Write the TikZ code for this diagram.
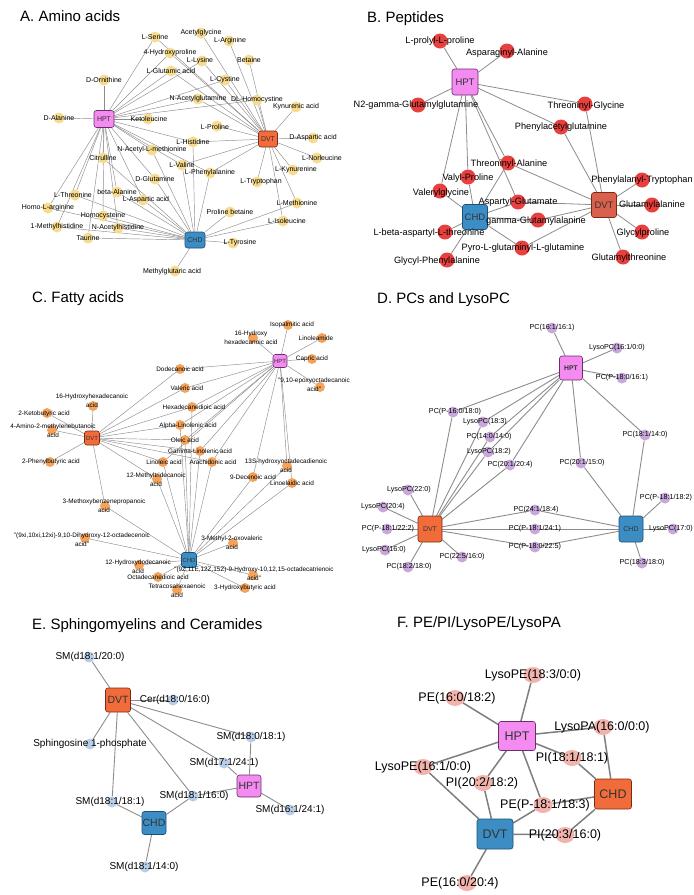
\documentclass[tikz,border=0pt]{standalone}
\usepackage{fontspec}
\setmainfont{Liberation Sans}
\usetikzlibrary{calc,shapes.geometric}
\pgfdeclarelayer{edges}
\pgfdeclarelayer{top}
\pgfsetlayers{edges,main,top}
\definecolor{edgegray}{HTML}{8C8C8C}
\definecolor{colA}{HTML}{F7DB8E}
\definecolor{colB}{HTML}{E8403E}
\definecolor{colC}{HTML}{F3A35C}
\definecolor{colD}{HTML}{C8A8DA}
\definecolor{colE}{HTML}{B8CDE6}
\definecolor{colF}{HTML}{F2B3AC}
\definecolor{hptcol}{HTML}{F38BF0}
\definecolor{hptbd}{HTML}{6B2D6B}
\definecolor{dvtcol}{HTML}{F26B3A}
\definecolor{dvtbcol}{HTML}{D8604C}
\definecolor{dvtbd}{HTML}{7A2A10}
\definecolor{chdcol}{HTML}{3C8DC4}
\definecolor{chdbd}{HTML}{1F4F75}
\newcommand{\Nd}[5][0,0]{\node[#2] (#3) at (#4) {};\begin{pgfonlayer}{top}\node[#2lab] at ($(#4)+(#1)$) {#5};\end{pgfonlayer}}
\newcommand{\Ed}[3]{\begin{pgfonlayer}{edges}\foreach \tgt in {#3} {\draw[#1] (#2) -- (\tgt);}\end{pgfonlayer}}
\begin{document}
\begin{tikzpicture}[x=1pt,y=-1pt,
  ttl/.style={anchor=base west, font=\fontsize{15}{18}\selectfont, inner sep=0pt},
  hub/.style={rounded corners=2.5pt, line width=0.6pt, inner sep=0pt, text=black!80},
  hpt/.style={hub, fill=hptcol, draw=hptbd},
  dvt/.style={hub, fill=dvtcol, draw=dvtbd},
  chd/.style={hub, fill=chdcol, draw=chdbd},
  metA/.style={circle, fill=colA, minimum size=11pt, inner sep=0pt},
  metAlab/.style={font=\fontsize{7}{8}\selectfont, inner sep=0pt, align=center},
  metB/.style={circle, fill=colB, minimum size=15pt, inner sep=0pt},
  metBlab/.style={font=\fontsize{9.2}{11}\selectfont, inner sep=0pt, align=center},
  metC/.style={circle, fill=colC, minimum size=10pt, inner sep=0pt},
  metClab/.style={font=\fontsize{6.4}{9}\selectfont, inner sep=0pt, align=center},
  metD/.style={circle, fill=colD, minimum size=11pt, inner sep=0pt},
  metDlab/.style={font=\fontsize{7.2}{9}\selectfont, inner sep=0pt, align=center},
  metE/.style={circle, fill=colE, minimum size=11pt, inner sep=0pt},
  metElab/.style={font=\fontsize{10}{12}\selectfont, inner sep=0pt, align=center},
  metF/.style={ellipse, fill=colF, minimum width=19pt, minimum height=16pt, inner sep=0pt},
  metFlab/.style={font=\fontsize{12.5}{14}\selectfont, inner sep=0pt, align=center},
  eA/.style={draw=edgegray, line width=0.45pt},
  eB/.style={draw=edgegray, line width=0.8pt},
  eC/.style={draw=edgegray, line width=0.45pt},
  eD/.style={draw=edgegray, line width=0.9pt},
  eE/.style={draw=edgegray, line width=0.9pt},
  eF/.style={draw=edgegray!90!black, line width=1.5pt}]
\path[use as bounding box] (0,0) rectangle (694,895);
% ---------------- titles
\node[ttl] (tA) at (20,21) {A. Amino acids};
\node[ttl] (tB) at (367,22) {B. Peptides};
\node[ttl] (tC) at (32,302) {C. Fatty acids};
\node[ttl] (tD) at (377,303) {D. PCs and LysoPC};
\node[ttl] (tE) at (32,629) {E. Sphingomyelins and Ceramides};
\node[ttl] (tF) at (397,627) {F. PE/PI/LysoPE/LysoPA};
% ---------------- panel A
\node[hpt, minimum width=20pt, minimum height=17pt, font=\fontsize{7}{8}\selectfont] (AH) at (104,119) {HPT};
\node[dvt, minimum width=19pt, minimum height=16pt, font=\fontsize{7}{8}\selectfont] (AD) at (268,139) {DVT};
\node[chd, minimum width=20pt, minimum height=16pt, font=\fontsize{7}{8}\selectfont] (AC) at (195,240) {CHD};
\Nd{metA}{aSer}{155,37}{L-Serine}
\Nd{metA}{aHyp}{170,53}{4-Hydroxyproline}
\Nd{metA}{aGlu}{171,71}{L-Glutamic acid}
\Nd{metA}{aOrn}{104,80}{D-Ornithine}
\Nd{metA}{aNAG}{198,99}{N-Acetylglutamine}
\Nd{metA}{aAla}{59,118}{D-Alanine}
\Nd[1,0]{metA}{aKet}{148,119}{Ketoleucine}
\Nd{metA}{aAcg}{201,33}{Acetylglycine}
\Nd[1,0]{metA}{aArg}{229,41}{L-Arginine}
\Nd[-2,0]{metA}{aLys}{202,61}{L-Lysine}
\Nd{metA}{aBet}{249,60}{Betaine}
\Nd{metA}{aCys}{225,80}{L-Cystine}
\Nd{metA}{aHcy2}{257,100}{DL-Homocystine}
\Nd{metA}{aKyna}{296,107}{Kynurenic acid}
\Nd[-2,1]{metA}{aPro}{217,126}{L-Proline}
\Nd{metA}{aAsp}{313,138}{D-Aspartic acid}
\Nd{metA}{aHis}{193,142}{L-Histidine}
\Nd{metA}{aNAM}{152,150}{N-Acetyl-L-methionine}
\Nd{metA}{aVal}{182,165}{L-Valine}
\Nd{metA}{aPhe}{210,173}{L-Phenylalanine}
\Nd{metA}{aCit}{103,158}{Citrulline}
\Nd{metA}{aGln}{155,179}{D-Glutamine}
\Nd{metA}{abAla}{117,192}{beta-Alanine}
\Nd[3,0]{metA}{aLAsp}{143,200}{L-Aspartic acid}
\Nd{metA}{aPrb}{230,212}{Proline betaine}
\Nd{metA}{aHcy}{103,216}{Homocysteine}
\Nd[-2,0]{metA}{aThr}{75,195}{L-Threonine}
\Nd{metA}{aHar}{48,208}{Homo-L-arginine}
\Nd{metA}{aMeH}{57,227}{1-Methylhistidine}
\Nd{metA}{aNAH}{118,228}{N-Acetylhistidine}
\Nd{metA}{aTau}{88,238}{Taurine}
\Nd[7,0]{metA}{aTyr}{233,243}{L-Tyrosine}
\Nd[5,0]{metA}{aNle}{317,158}{L-Norleucine}
\Nd[3,0]{metA}{aKyn}{293,170}{L-Kynurenine}
\Nd[4,0]{metA}{aTrp}{257,182}{L-Tryptophan}
\Nd{metA}{aMet}{297,203}{L-Methionine}
\Nd[4,0]{metA}{aIle}{283,221}{L-Isoleucine}
\Nd[-3,1]{metA}{aMgl}{175,271}{Methylglutaric acid}
\Ed{eA}{AH}{aAla,aOrn,aKet,aSer,aHyp,aGlu,aLys,aCys,aNAG,aHcy2,aHis,aNAM,aVal,aPhe,aCit,aGln,abAla,aLAsp,aThr,aHar,aMeH,aHcy,aNAH,aTau}
\Ed{eA}{AD}{aAcg,aArg,aLys,aBet,aCys,aHyp,aGlu,aNAG,aHcy2,aKyna,aPro,aAsp,aNle,aKyn,aTrp,aMet,aIle,aHis,aVal,aPhe,aSer}
\Ed{eA}{AC}{aTyr,aMgl,aPrb,aIle,aMet,aHis,aPhe,aVal,aGln,aLAsp,aNAM,abAla,aHcy,aTau,aNAH,aMeH,aThr,aCit,aHar}
% ---------------- panel B
\node[hpt, minimum width=26pt, minimum height=26pt, font=\fontsize{9.5}{10}\selectfont] (BH) at (465,82) {HPT};
\node[hub, fill=dvtbcol, draw=dvtbd, minimum width=25pt, minimum height=25pt, font=\fontsize{9.5}{10}\selectfont] (BD) at (604,205) {DVT};
\node[chd, minimum width=25pt, minimum height=25pt, font=\fontsize{9.5}{10}\selectfont] (BC) at (475,217) {CHD};
\Nd{metB}{b1}{440,41}{L-prolyl-L-proline}
\Nd[0,2]{metB}{b2}{507,51}{Asparaginyl-Alanine}
\Nd[-2,0]{metB}{b3}{418,105}{N2-gamma-Glutamylglutamine}
\Nd[1,2]{metB}{b4}{585,104}{Threoninyl-Glycine}
\Nd{metB}{b5}{561,127}{Phenylacetylglutamine}
\Nd[1,1]{metB}{b6}{508,163}{Threoninyl-Alanine}
\Nd[0,1]{metB}{b7}{468,177}{Valyl-Proline}
\Nd[1,2]{metB}{b8}{440,191}{Valerylglycine}
\Nd{metB}{b9}{518,202}{Aspartyl-Glutamate}
\Nd[-2,1]{metB}{b10}{538,220}{gamma-Glutamylalanine}
\Nd[-16,1]{metB}{b12}{445,232}{L-beta-aspartyl-L-threonine}
\Nd[1,0]{metB}{b11}{522,248}{Pyro-L-glutaminyl-L-glutamine}
\Nd[-10,1]{metB}{b13}{447,260}{Glycyl-Phenylalanine}
\Nd{metB}{b14}{642,180}{Phenylalanyl-Tryptophan}
\Nd{metB}{b15}{652,205}{Glutamylalanine}
\Nd[1,1]{metB}{b16}{642,232}{Glycylproline}
\Nd[6,1]{metB}{b17}{623,257}{Glutamylthreonine}
\Ed{eB}{BH}{b1,b2,b3,b4,b5,b6,b7,b8,b9}
\Ed{eB}{BD}{b4,b5,b6,b9,b10,b11,b14,b15,b16,b17}
\Ed{eB}{BC}{b6,b7,b8,b9,b10,b11,b12,b13}
% ---------------- panel C
\node[hpt, minimum width=14pt, minimum height=13pt, font=\fontsize{6}{7}\selectfont] (CH) at (280,361) {HPT};
\node[dvt, minimum width=15pt, minimum height=14pt, font=\fontsize{6}{7}\selectfont] (CD) at (92,438) {DVT};
\node[chd, minimum width=15pt, minimum height=15pt, font=\fontsize{6}{7}\selectfont] (CC) at (189,560) {CHD};
\Nd[4,0]{metC}{cIso}{288,325}{Isopalmitic acid}
\Nd[-2,0]{metC}{c16H}{253,338}{16-Hydroxy\\hexadecanoic acid}
\Nd[-6,0]{metC}{cLam}{322,338}{Linoleamide}
\Nd{metC}{cCap}{312,359}{Capric acid}
\Nd[-6,-2]{metC}{cEpo}{320,387}{"9,10-epoxyoctadecanoic\\acid"}
\Nd{metC}{cDod}{180,369}{Dodecanoic acid}
\Nd[2,0]{metC}{cVal}{185,388}{Valeric acid}
\Nd[2,0]{metC}{cHex}{192,407}{Hexadecanedioic acid}
\Nd[8,1]{metC}{cALA}{180,425}{Alpha-Linolenic acid}
\Nd[-1,-5]{metC}{c16HH}{93,406}{16-Hydroxyhexadecanoic\\acid}
\Nd[-3,1]{metC}{cKet}{47,413}{2-Ketobutyric acid}
\Nd[1,1]{metC}{cAmi}{52,430}{4-Amino-2-methylenebutanoic\\acid}
\Nd[1,0]{metC}{cPhb}{50,462}{2-Phenylbutyric acid}
\Nd{metC}{cOle}{185,440}{Oleic acid}
\Nd{metC}{cGLA}{200,451}{Gamma-Linolenic acid}
\Nd[1,0]{metC}{cLin}{163,462}{Linoleic acid}
\Nd[1,0]{metC}{cAra}{212,462}{Arachidonic acid}
\Nd[-1,1]{metC}{cMtd}{157,479}{12-Methyltridecanoic\\acid}
\Nd[-1,0]{metC}{c13S}{287,466}{13S-hydroxyoctadecadienoic\\acid}
\Nd{metC}{cDec}{253,477}{9-Decenoic acid}
\Nd{metC}{cLel}{292,483}{Linoelaidic acid}
\Nd[-1,0]{metC}{cMeo}{105,506}{3-Methoxybenzenepropanoic\\acid}
\Nd[-3,2]{metC}{cDih}{85,538}{"(9xi,10xi,12xi)-9,10-Dihydroxy-12-octadecenoic\\acid"}
\Nd[-1,0]{metC}{cMov}{233,543}{3-Methyl-2-oxovaleric\\acid}
\Nd[-1,2]{metC}{cHdd}{139,565}{12-Hydroxydodecanoic\\acid}
\Nd[1,-1]{metC}{cHot}{253,575}{"(9Z,11E,12Z,15Z)-9-Hydroxy-10,12,15-octadecatrienoic\\acid"}
\Nd{metC}{cOdd}{158,577}{Octadecanedioic acid}
\Nd[0,1]{metC}{cTch}{177,590}{Tetracosahexaenoic\\acid}
\Nd{metC}{cHbu}{245,588}{3-Hydroxybutyric acid}
\Ed{eC}{CH}{cIso,c16H,cLam,cCap,cEpo,cDod,cVal,cHex,cALA,cOle,cGLA,cLin,cAra,c13S,cLel,cDec}
\Ed{eC}{CD}{c16HH,cKet,cAmi,cPhb,cMeo,cDod,cVal,cHex,cALA,cOle,cGLA,cLin,cAra,cMtd}
\Ed{eC}{CC}{cMeo,cDih,cHdd,cOdd,cTch,cHbu,cHot,cMov,cDec,cLel,c13S,cMtd,cLin,cOle,cGLA,cAra,cALA,cHex}
% ---------------- panel D
\node[hpt, minimum width=23pt, minimum height=24pt, font=\bfseries\fontsize{6.8}{8}\selectfont] (DH) at (571,368) {HPT};
\node[dvt, minimum width=24pt, minimum height=26pt, font=\fontsize{7}{8}\selectfont] (DD) at (430,529) {DVT};
\node[chd, minimum width=24pt, minimum height=26pt, font=\fontsize{7}{8}\selectfont] (DC) at (631,529) {CHD};
\Nd{metD}{d1}{552,328}{PC(16:1/16:1)}
\Nd{metD}{d2}{617,348}{LysoPC(16:1/0:0)}
\Nd{metD}{d3}{622,378}{PC(P-18:0/16:1)}
\Nd[2,0]{metD}{d4}{453,412}{PC(P-16:0/18:0)}
\Nd[2,0]{metD}{d5}{483,422}{LysoPC(18:3)}
\Nd[-1,0]{metD}{d6}{490,437}{PC(14:0/14:0)}
\Nd{metD}{d7}{645,435}{PC(18:1/14:0)}
\Nd[1,0]{metD}{d8}{488,452}{LysoPC(18:2)}
\Nd{metD}{d9}{510,465}{PC(20:1/20:4)}
\Nd[1,0]{metD}{d10}{581,463}{PC(20:1/15:0)}
\Nd[1,0]{metD}{d11}{408,490}{LysoPC(22:0)}
\Nd{metD}{d12}{383,507}{LysoPC(20:4)}
\Nd[1,0]{metD}{d13}{387,529}{PC(P-18:1/22:2)}
\Nd[-1,0]{metD}{d14}{385,550}{LysoPC(16:0)}
\Nd[1,0]{metD}{d15}{408,567}{PC(18:2/18:0)}
\Nd{metD}{d16}{462,557}{PC(22:5/16:0)}
\Nd[1,0]{metD}{d17}{535,510}{PC(24:1/18:4)}
\Nd{metD}{d18}{535,529}{PC(P-18:1/24:1)}
\Nd{metD}{d19}{535,547}{PC(P-18:0/22:5)}
\Nd[1,0]{metD}{d20}{665,498}{PC(P-18:1/18:2)}
\Nd[-2,0]{metD}{d21}{673,529}{LysoPC(17:0)}
\Nd{metD}{d22}{642,563}{PC(18:3/18:0)}
\Ed{eD}{DH}{d1,d2,d3,d7,d10,d4,d5,d6,d8,d9}
\Ed{eD}{DD}{d4,d5,d6,d8,d9,d11,d12,d13,d14,d15,d16,d17,d18,d19}
\Ed{eD}{DC}{d7,d10,d17,d18,d19,d20,d21,d22}
% ---------------- panel E
\node[dvt, minimum width=25pt, minimum height=24pt, font=\fontsize{10.5}{12}\selectfont] (ED) at (118,700) {DVT};
\node[hpt, minimum width=24pt, minimum height=22pt, font=\fontsize{10.5}{12}\selectfont] (EH) at (249,786) {HPT};
\node[chd, minimum width=24pt, minimum height=23pt, font=\fontsize{10.5}{12}\selectfont] (EC) at (154,823) {CHD};
\Nd[1,0]{metE}{e1}{89,657}{SM(d18:1/20:0)}
\Nd[2,0]{metE}{e2}{173,700}{Cer(d18:0/16:0)}
\Nd{metE}{e3}{251,737}{SM(d18:0/18:1)}
\Nd{metE}{e4}{90,744}{Sphingosine 1-phosphate}
\Nd{metE}{e5}{224,763}{SM(d17:1/24:1)}
\Nd[1,0]{metE}{e6}{193,796}{SM(d18:1/16:0)}
\Nd[-2,0]{metE}{e7}{112,802}{SM(d18:1/18:1)}
\Nd{metE}{e8}{290,810}{SM(d16:1/24:1)}
\Nd[-1,0]{metE}{e9}{145,867}{SM(d18:1/14:0)}
\Ed{eE}{ED}{e1,e2,e4,e3,e5,e6,e7}
\Ed{eE}{EH}{e3,e5,e6,e8}
\Ed{eE}{EC}{e7,e6,e9}
% ---------------- panel F
\node[hpt, minimum width=37pt, minimum height=29pt, font=\fontsize{12.5}{14}\selectfont] (FH) at (517,736) {HPT};
\node[dvt, minimum width=37pt, minimum height=30pt, font=\fontsize{12.5}{14}\selectfont] (FC) at (613,794) {CHD};
\node[chd, minimum width=36pt, minimum height=30pt, font=\fontsize{12.5}{14}\selectfont] (FD) at (495,834) {DVT};
\Nd{metF}{f1}{533,675}{LysoPE(18:3/0:0)}
\Nd[2,0]{metF}{f2}{455,698}{PE(16:0/18:2)}
\Nd[-1,0]{metF}{f3}{603,727}{LysoPA(16:0/0:0)}
\Nd{metF}{f4}{572,758}{PI(18:1/18:1)}
\Nd{metF}{f5}{423,767}{LysoPE(16:1/0:0)}
\Nd[-1,0]{metF}{f6}{483,783}{PI(20:2/18:2)}
\Nd[2,0]{metF}{f7}{543,805}{PE(P-18:1/18:3)}
\Nd{metF}{f8}{565,835}{PI(20:3/16:0)}
\Nd[-7,0]{metF}{f9}{467,883}{PE(16:0/20:4)}
\Ed{eF}{FH}{f1,f2,f3,f4,f5,f6,f7}
\Ed{eF}{FC}{f3,f4,f7,f8}
\Ed{eF}{FD}{f5,f6,f7,f8,f9}
\end{tikzpicture}
\end{document}
